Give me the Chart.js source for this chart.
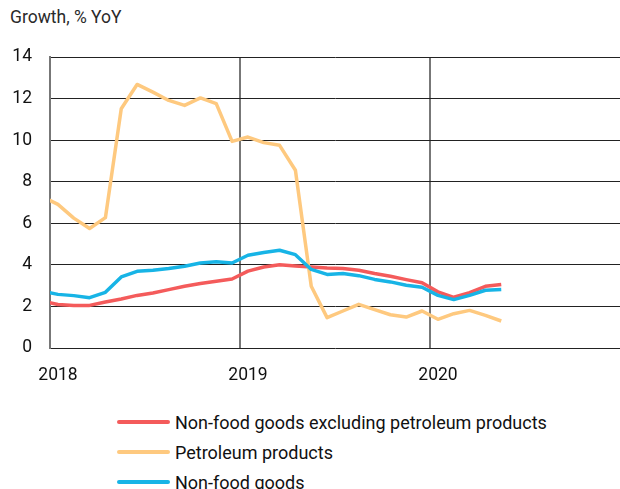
<!DOCTYPE html>
<html><head><meta charset="utf-8">
<script src="https://cdn.jsdelivr.net/npm/chart.js@4/dist/chart.umd.min.js"></script>
<style>
html,body{margin:0;padding:0;background:#fff;}
#wrap{position:relative;width:620px;height:489px;overflow:hidden;}
#title{position:absolute;left:10px;top:7px;font:17.5px Roboto;color:#2a2a2a;white-space:nowrap;}
#cv{position:absolute;left:0;top:0;}
#legend{position:absolute;left:117px;top:407px;}
.item{display:flex;align-items:center;height:30px;font:18px Roboto;color:#111;white-space:nowrap;}
.swatch{width:53px;height:4px;margin-right:5px;border-radius:2px;}
</style></head>
<body>
<div id="wrap">
<div id="title">Growth, % YoY</div>
<canvas id="cv" width="620" height="400"></canvas>
<div id="legend"></div>
</div>
<script>
// Months: Dec 2017 (index -1, clipped at left edge) ... May 2020 (index 28)
const months = ['Dec 2017','Jan 2018','Feb 2018','Mar 2018','Apr 2018','May 2018','Jun 2018','Jul 2018','Aug 2018','Sep 2018','Oct 2018','Nov 2018','Dec 2018',
  'Jan 2019','Feb 2019','Mar 2019','Apr 2019','May 2019','Jun 2019','Jul 2019','Aug 2019','Sep 2019','Oct 2019','Nov 2019','Dec 2019',
  'Jan 2020','Feb 2020','Mar 2020','Apr 2020','May 2020'];
const monthIndex = [-1,0,1,2,3,4,5,6,7,8,9,10,11,12,13,14,15,16,17,18,19,20,21,22,23,24,25,26,27,28];

const nonFoodExPetroleum = [2.27,2.09,2.05,2.05,2.21,2.36,2.53,2.65,2.81,2.97,3.10,3.21,3.32,
  3.70,3.90,4.01,3.95,3.90,3.85,3.83,3.74,3.58,3.45,3.29,3.14,2.70,2.44,2.66,2.97,3.06];
const petroleum = [7.29,6.91,6.25,5.75,6.27,11.51,12.68,12.31,11.91,11.67,12.03,11.76,9.94,
  10.15,9.88,9.75,8.55,2.97,1.46,1.78,2.10,1.85,1.60,1.49,1.78,1.38,1.65,1.81,1.57,1.30];
const nonFood = [2.74,2.58,2.52,2.42,2.68,3.42,3.69,3.74,3.82,3.93,4.09,4.15,4.09,
  4.46,4.59,4.70,4.49,3.78,3.54,3.58,3.48,3.30,3.18,3.02,2.92,2.53,2.33,2.53,2.78,2.82];

const yearLabels = ['2018','2019','2020'];
const yearBoundaries = [-0.5, 11.5, 23.5];
const yTicks = [0,2,4,6,8,10,12,14];

const seriesNames = ['Non-food goods excluding petroleum products','Petroleum products','Non-food goods'];
const seriesColors = ['#f45b5b','#fec97f','#17b4e6'];
const seriesValues = [nonFoodExPetroleum, petroleum, nonFood];
const seriesOrder = [3, 2, 1];

const toPoints = vals => vals.map((v,i)=>({x: monthIndex[i], y: v}));

const datasets = seriesNames.map((name,k)=>({
  label: name,
  data: toPoints(seriesValues[k]),
  borderColor: seriesColors[k],
  backgroundColor: seriesColors[k],
  borderWidth: 3.5,
  pointRadius: 0,
  tension: 0,
  fill: false,
  clip: 0,
  order: seriesOrder[k],
  borderJoinStyle: 'round'
}));

const chart = new Chart(document.getElementById('cv'), {
  type: 'line',
  data: { datasets },
  options: {
    responsive: false,
    animation: false,
    devicePixelRatio: 1,
    layout: { padding: { top: 57, left: 0, right: -3, bottom: 12 } },
    plugins: { legend: { display: false }, tooltip: { enabled: false } },
    scales: {
      x: {
        type: 'linear',
        min: -0.5, max: 35.5,
        afterBuildTicks: s => { s.ticks = yearBoundaries.map(v=>({value:v})); },
        afterFit: s => { s.height = 40; s.paddingLeft = 0; s.paddingRight = 0; },
        ticks: {
          callback: (v, i) => yearLabels[i] ?? '',
          labelOffset: 8,
          padding: 17,
          maxRotation: 0,
          autoSkip: false,
          color: '#111',
          font: { family: 'Roboto', size: 17.5 }
        },
        grid: {
          color: ctx => (ctx.tick && yearBoundaries.includes(ctx.tick.value)) ? '#777' : 'rgba(0,0,0,0)',
          lineWidth: 2,
          drawTicks: false
        },
        border: { display: false }
      },
      y: {
        min: 0, max: 14,
        afterBuildTicks: s => { s.ticks = yTicks.map(v=>({value:v})); },
        afterFit: s => { s.width = 50; },
        ticks: {
          padding: 18,
          color: '#111',
          font: { family: 'Roboto', size: 17.5 }
        },
        grid: { color: '#222', lineWidth: 1, drawTicks: false },
        border: { display: true, color: '#777', width: 2 }
      }
    }
  }
});

// HTML legend built from the chart's datasets, in series order
const legend = document.getElementById('legend');
chart.data.datasets.forEach(ds => {
  const row = document.createElement('div');
  row.className = 'item';
  const sw = document.createElement('span');
  sw.className = 'swatch';
  sw.style.background = ds.borderColor;
  const tx = document.createElement('span');
  tx.textContent = ds.label;
  row.appendChild(sw); row.appendChild(tx);
  legend.appendChild(row);
});
</script>
</body></html>
